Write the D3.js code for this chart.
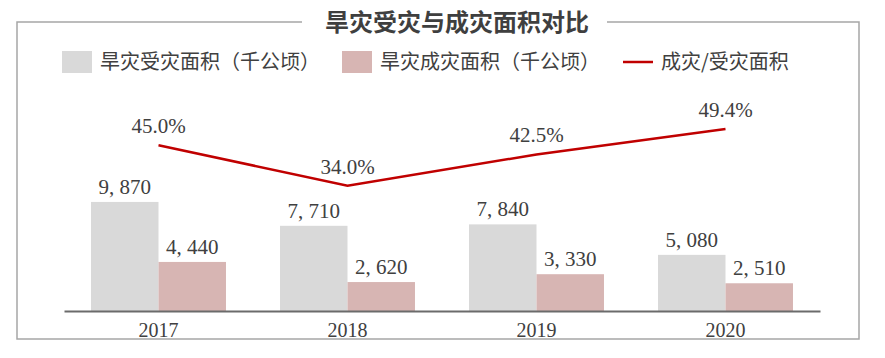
<!DOCTYPE html>
<html>
<head>
<meta charset="utf-8">
<script src="https://cdn.jsdelivr.net/npm/d3@7/dist/d3.min.js"></script>
<style>
  body { margin: 0; background: #fff; }
  svg { display: block; }
</style>
</head>
<body>
<svg id="chart" width="885" height="358"></svg>
<script>
// data
const years = ["2017", "2018", "2019", "2020"];
const affected = [9870, 7710, 7840, 5080];   // 旱灾受灾面积（千公顷）
const damaged = [4440, 2620, 3330, 2510];    // 旱灾成灾面积（千公顷）
const ratio = [0.450, 0.340, 0.425, 0.494];  // 成灾/受灾面积
const seriesNames = ["旱灾受灾面积（千公顷）", "旱灾成灾面积（千公顷）", "成灾/受灾面积"];

const svg = d3.select("#chart");
const cjk = "'Noto Sans CJK SC', 'Noto Sans', sans-serif";
const serif = "'Liberation Serif', 'DejaVu Serif', serif";
const textColor = "#404040";

// frame with a gap for the title
const frame = { l: 17, t: 22, r: 859, b: 339 };
svg.append("path")
  .attr("d", `M 302 ${frame.t} H ${frame.l} V ${frame.b} H ${frame.r} V ${frame.t} H 607`)
  .attr("fill", "none")
  .attr("stroke", "#a6a6a6")
  .attr("stroke-width", 1.5);

svg.append("text")
  .attr("x", 457).attr("y", 31)
  .attr("text-anchor", "middle")
  .attr("font-family", cjk)
  .attr("font-weight", "bold")
  .attr("font-size", 24)
  .attr("fill", "#3f3f3f")
  .text("旱灾受灾与成灾面积对比");

// scales
const baseY = 311, topY = 90;
const x0 = d3.scaleBand().domain(years).range([64, 820])
  .paddingInner(0.286).paddingOuter(0.143);
const x1 = d3.scaleBand().domain(["a", "d"]).range([0, x0.bandwidth()]);
const yBar = d3.scaleLinear().domain([0, 20000]).range([baseY, topY]);
const yLine = d3.scaleLinear().domain([0, 0.6]).range([baseY, topY]);

const rows = years.map((y, i) => ({ year: y, a: affected[i], d: damaged[i], r: ratio[i] }));
const colors = { a: "#d9d9d9", d: "#d7b5b3" };
const numFmt = v => d3.format(",")(v).replace(",", ", ");

const groups = svg.append("g").selectAll("g")
  .data(rows).join("g")
  .attr("transform", d => `translate(${x0(d.year)},0)`);

["a", "d"].forEach(k => {
  groups.append("rect")
    .attr("x", x1(k))
    .attr("y", d => yBar(d[k]))
    .attr("width", x1.bandwidth())
    .attr("height", d => baseY - yBar(d[k]))
    .attr("fill", colors[k]);
  groups.append("text")
    .attr("x", x1(k) + x1.bandwidth() / 2)
    .attr("y", d => yBar(d[k]) - 8)
    .attr("text-anchor", "middle")
    .style("font-family", serif)
    .attr("font-size", 21)
    .attr("fill", textColor)
    .text(d => numFmt(d[k]));
});

// x axis
const xAxis = svg.append("g")
  .attr("transform", `translate(0,${baseY})`)
  .call(d3.axisBottom(x0).tickSize(0).tickPadding(12));
xAxis.select(".domain").attr("stroke", "#6b6b6b").attr("stroke-width", 2);
xAxis.selectAll("text")
  .style("font-family", serif)
  .attr("font-size", 20)
  .attr("fill", textColor);

// ratio line
const cx = d => x0(d.year) + x0.bandwidth() / 2;
svg.append("path")
  .datum(rows)
  .attr("fill", "none")
  .attr("stroke", "#c00000")
  .attr("stroke-width", 2.5)
  .attr("d", d3.line().x(cx).y(d => yLine(d.r)));

svg.append("g").selectAll("text")
  .data(rows).join("text")
  .attr("x", cx)
  .attr("y", d => yLine(d.r) - 12)
  .attr("text-anchor", "middle")
  .style("font-family", serif)
  .attr("font-size", 21)
  .attr("fill", textColor)
  .text(d => d3.format(".1f")(d.r * 100) + "%");

// legend
const legend = svg.append("g");
const legendItems = [
  { name: seriesNames[0], x: 62, type: "rect", color: colors.a },
  { name: seriesNames[1], x: 342, type: "rect", color: colors.d },
  { name: seriesNames[2], x: 623, type: "line", color: "#c00000" }
];
legendItems.forEach(it => {
  if (it.type === "rect") {
    legend.append("rect")
      .attr("x", it.x).attr("y", 51)
      .attr("width", 30).attr("height", 22)
      .attr("fill", it.color);
  } else {
    legend.append("line")
      .attr("x1", it.x).attr("x2", it.x + 30)
      .attr("y1", 62).attr("y2", 62)
      .attr("stroke", it.color).attr("stroke-width", 2.5);
  }
  legend.append("text")
    .attr("x", it.x + 38).attr("y", 69)
    .attr("font-family", cjk)
    .attr("font-size", 20)
    .attr("fill", textColor)
    .text(it.name);
});
</script>
</body>
</html>
